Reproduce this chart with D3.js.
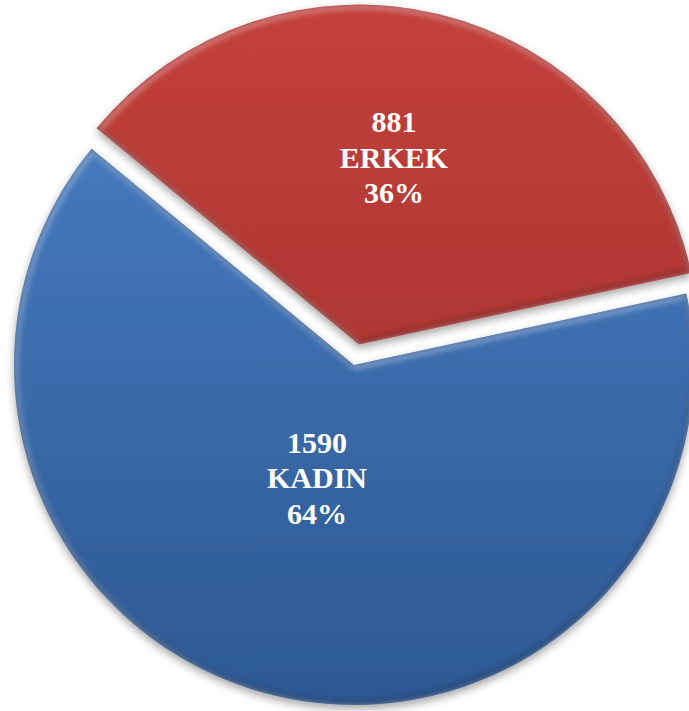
<!DOCTYPE html>
<html>
<head>
<meta charset="utf-8">
<script src="https://cdn.jsdelivr.net/npm/d3@7"></script>
<style>
  body { margin: 0; background: #fff; overflow: hidden; }
</style>
</head>
<body>
<div id="chart"></div>
<script>
// pie data
const categories = ["ERKEK", "KADIN"];
const counts = [881, 1590];
const percents = ["36%", "64%"];
const sliceColors = [
    { top: "#c3403c", bottom: "#9c2d2a" },
    { top: "#4a80c6", bottom: "#2d5893" }
];

const width = 689, height = 711;
const cx = 354, cy = 365, radius = 340;
const explode = 21;   // red slice pulled out
// label centre, relative to slice apex
const labelPos = [[35, -187], [-37, 113]];

const svg = d3.select("#chart").append("svg")
    .attr("width", width)
    .attr("height", height);

const defs = svg.append("defs");

// soft shadow under the pie
const shadow = defs.append("filter").attr("id", "shadow")
    .attr("x", "-20%").attr("y", "-20%").attr("width", "140%").attr("height", "140%");
shadow.append("feDropShadow")
    .attr("dx", 0).attr("dy", 4).attr("stdDeviation", 4)
    .attr("flood-color", "#000").attr("flood-opacity", 0.35);

const blur = defs.append("filter").attr("id", "rimBlur");
blur.append("feGaussianBlur").attr("stdDeviation", 2.5);

const pie = d3.pie()
    .sort(null)
    .value(d => d)
    .startAngle(-50.5 * Math.PI / 180)
    .endAngle(309.5 * Math.PI / 180);

const arcs = pie(counts);
const arc = d3.arc().innerRadius(0).outerRadius(radius);

const g = svg.append("g").attr("transform", `translate(${cx},${cy})`);

arcs.forEach((a, i) => {
    const mid = (a.startAngle + a.endAngle) / 2;
    const off = i === 0 ? explode : 0;
    const dx = Math.sin(mid) * off, dy = -Math.cos(mid) * off;

    const grad = defs.append("linearGradient")
        .attr("id", "grad" + i)
        .attr("gradientUnits", "userSpaceOnUse")
        .attr("x1", 0).attr("y1", -radius)
        .attr("x2", 0).attr("y2", radius);
    grad.append("stop").attr("offset", "0%").attr("stop-color", sliceColors[i].top);
    grad.append("stop").attr("offset", "100%").attr("stop-color", sliceColors[i].bottom);

    defs.append("clipPath").attr("id", "clip" + i)
        .append("path").attr("d", arc(a));

    const sg = g.append("g").attr("transform", `translate(${dx},${dy})`);

    sg.append("path")
        .attr("d", arc(a))
        .attr("fill", `url(#grad${i})`)
        .attr("filter", "url(#shadow)");

    // bevel: light rim on top edges, dark rim at the bottom
    const rim = sg.append("g").attr("clip-path", `url(#clip${i})`);
    rim.append("path")
        .attr("d", arc(a))
        .attr("fill", "none")
        .attr("stroke", "#ffffff")
        .attr("stroke-opacity", 0.28)
        .attr("stroke-width", 7)
        .attr("filter", "url(#rimBlur)")
        .attr("transform", "translate(1.5,2)");
    rim.append("path")
        .attr("d", arc(a))
        .attr("fill", "none")
        .attr("stroke", "#000")
        .attr("stroke-opacity", 0.22)
        .attr("stroke-width", 5)
        .attr("filter", "url(#rimBlur)")
        .attr("transform", "translate(-1,-2.5)");

    // labels
    const lx = labelPos[i][0] + dx;
    const ly = labelPos[i][1] + dy;
    const lines = [String(counts[i]), categories[i], percents[i]];
    const t = g.append("text")
        .attr("text-anchor", "middle")
        .attr("fill", "#fff")
        .attr("font-family", "'Liberation Serif', Tinos, 'Times New Roman', serif")
        .attr("font-weight", "bold")
        .attr("font-size", 30)
        .attr("transform", `translate(${lx},${ly})`);
    lines.forEach((s, k) => {
        t.append("tspan")
            .attr("x", 0)
            .attr("y", (k - 1) * 35.5 + 10)
            .text(s);
    });
});
</script>
</body>
</html>
